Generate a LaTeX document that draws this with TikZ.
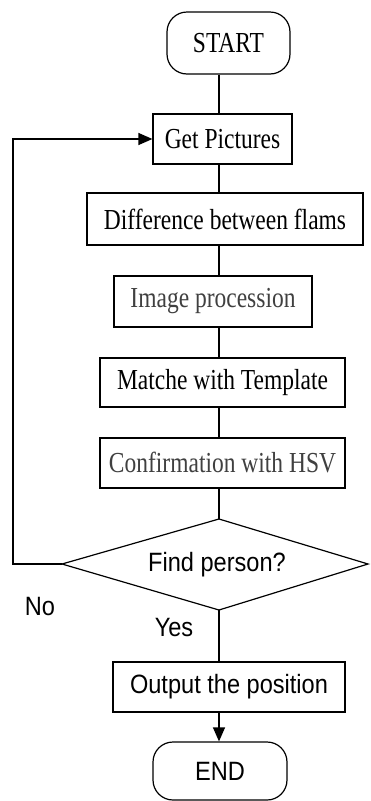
\documentclass[tikz,border=0pt]{standalone}
\usepackage{fontspec}
\setmainfont{Liberation Serif}[FakeStretch=0.81]
\setsansfont{Liberation Sans}[FakeStretch=0.89]
\usetikzlibrary{arrows.meta}
\definecolor{graytext}{HTML}{404040}
\begin{document}
\begin{tikzpicture}[x=1pt,y=1pt,
  line width=1.2pt,
  serif/.style={font=\fontsize{29}{32}\selectfont\rmfamily},
  sans/.style={font=\fontsize{26.5}{30}\selectfont\sffamily},
  stepbox/.style={draw, inner sep=0pt},
  term/.style={draw, rounded corners=20pt, inner sep=0pt},
  arr/.style={-{Triangle[length=14pt,width=12pt]}}
]
\useasboundingbox (0,0) rectangle (370,-801);
\node[term, serif, minimum width=123pt, minimum height=62pt] (start) at (228.5,-43) {START};
\node[stepbox, serif, minimum width=139pt, minimum height=50pt] (getpic) at (222.5,-139) {Get Pictures};
\node[stepbox, serif, minimum width=276pt, minimum height=52pt] (diff) at (225,-219) {Difference between flams};
\node[stepbox, serif, text=graytext, minimum width=198pt, minimum height=51pt] (proc) at (213,-301.5) {Image procession};
\node[stepbox, serif, minimum width=245pt, minimum height=49pt] (match) at (222.5,-382.5) {Matche with Template};
\node[stepbox, serif, text=graytext, minimum width=245pt, minimum height=50pt] (conf) at (222.5,-463) {Confirmation with HSV};
\coordinate (dtop) at (219,-519);
\coordinate (dleft) at (62,-564);
\coordinate (dright) at (368,-564);
\coordinate (dbot) at (219,-610);
\draw (dtop) -- (dright) -- (dbot) -- (dleft) -- cycle;
\node[sans] (dec) at (217,-565) {Find person?};
\node[stepbox, sans, minimum width=232pt, minimum height=50pt] (out) at (229,-687) {Output the position};
\node[term, sans, minimum width=134pt, minimum height=58pt] (end) at (220,-771) {END};
\node[sans] (no) at (40,-607) {No};
\node[sans] (yes) at (174,-628) {Yes};
\coordinate (ax) at (219,0);
\draw (start.south -| ax) -- (getpic.north -| ax);
\draw (getpic.south -| ax) -- (diff.north -| ax);
\draw (diff.south -| ax) -- (proc.north -| ax);
\draw (proc.south -| ax) -- (match.north -| ax);
\draw (match.south -| ax) -- (conf.north -| ax);
\draw (conf.south -| ax) -- (dtop);
\draw (dbot) -- (out.north -| ax);
\draw[arr] (out.south -| ax) -- (end.north -| ax);
\coordinate (lx) at (13,0);
\draw[arr] (dleft) -- (dleft -| lx) -- (getpic.west -| lx) -- (getpic.west);
\end{tikzpicture}
\end{document}
